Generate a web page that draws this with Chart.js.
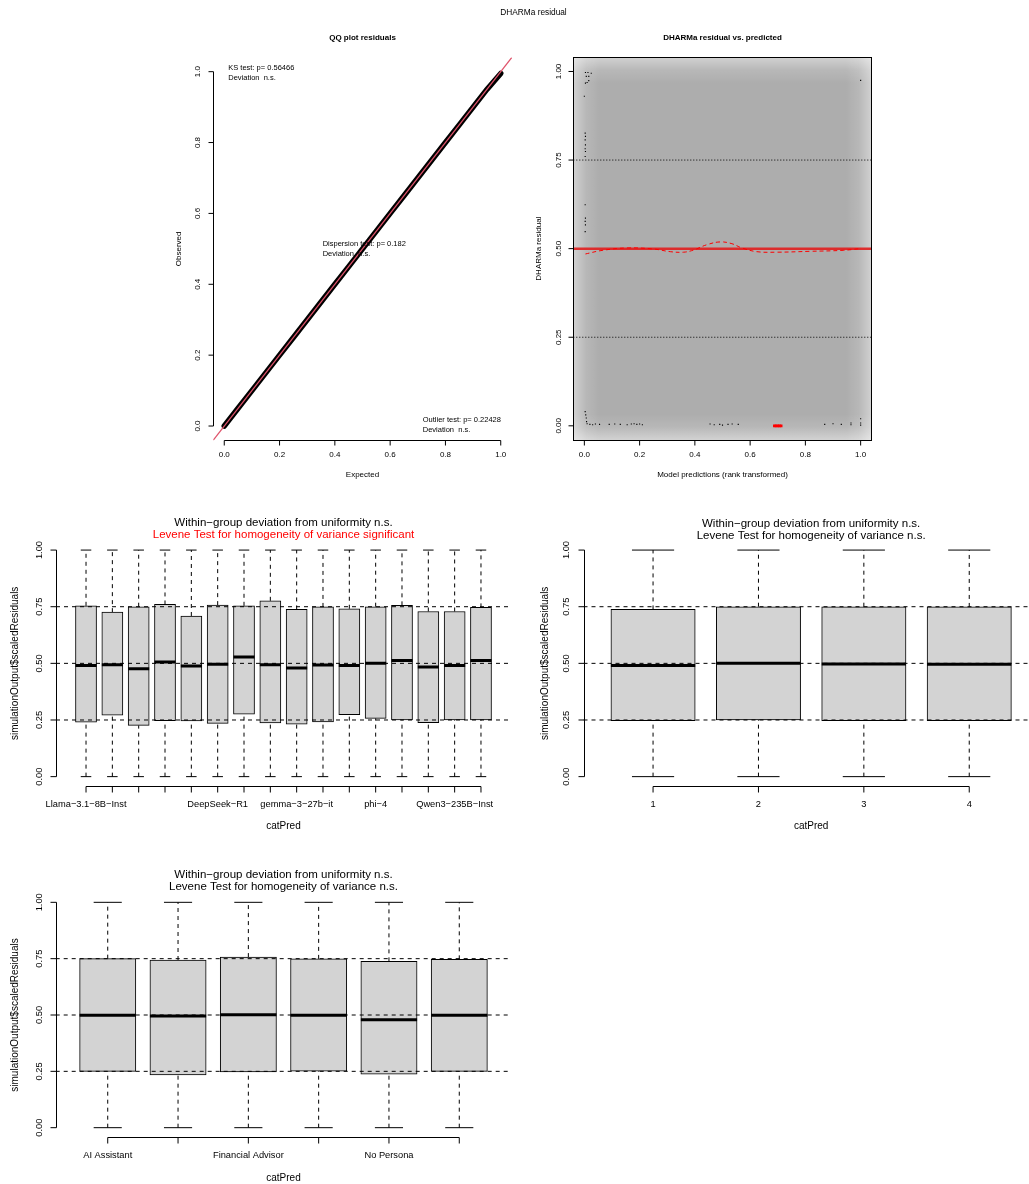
<!DOCTYPE html>
<html><head><meta charset="utf-8">
<script src="https://cdn.jsdelivr.net/npm/chart.js@4.4.1/dist/chart.umd.min.js"></script>
<style>
html,body{margin:0;padding:0;background:#fff;overflow:hidden}
#wrap{position:absolute;left:0;top:0;width:1060px;height:1184px;overflow:visible}
canvas{position:absolute;left:0;top:0;width:1060px;height:1184px}
</style></head><body>
<div id="wrap">
<canvas id="c1" width="1060" height="1184"></canvas>
<canvas id="c2" width="1060" height="1184"></canvas>
<canvas id="c3" width="1060" height="1184"></canvas>
<canvas id="c4" width="1060" height="1184"></canvas>
<canvas id="c5" width="1060" height="1184"></canvas>
</div>
<script>
// ---------------- DATA ----------------
const pageTitle = "DHARMa residual";

// QQ plot
const qqExpected = [0.00,0.05,0.10,0.15,0.20,0.25,0.30,0.35,0.40,0.45,0.50,0.55,0.60,0.65,0.70,0.75,0.80,0.85,0.90,0.95,1.00];
const qqObserved = [0.00,0.05,0.10,0.15,0.20,0.25,0.30,0.35,0.40,0.45,0.50,0.55,0.60,0.65,0.70,0.75,0.80,0.85,0.90,0.95,0.995];
const qqRefX = [-0.1, 1.1];
const qqRefY = [-0.1, 1.1];
const qqTicks = [0,0.2,0.4,0.6,0.8,1.0];
const qqTickLabels = ["0.0","0.2","0.4","0.6","0.8","1.0"];
const ksText = ["KS test: p= 0.56466","Deviation  n.s."];
const dispText = ["Dispersion test: p= 0.182","Deviation  n.s."];
const outText = ["Outlier test: p= 0.22428","Deviation  n.s."];

// Residual vs predicted
const resX = [0.004,0.013,0.025,0.007,0.016,0.004,0.010,0.016,0.000,
  0.003,0.004,0.003,0.004,0.003,0.004,0.003,
  0.003,0.004,0.003,0.004,0.003,
  0.003,0.005,0.007,0.008,
  0.010,0.020,0.030,0.040,0.055,0.090,0.110,0.130,0.155,0.170,0.180,0.190,0.200,0.210,
  0.455,0.470,0.490,0.500,0.520,0.535,0.557,
  0.870,0.900,0.930,0.965,0.965,1.000,1.000,1.000,1.000];
const resY = [0.997,0.997,0.995,0.986,0.986,0.967,0.969,0.974,0.930,
  0.826,0.817,0.807,0.793,0.782,0.774,0.760,
  0.624,0.586,0.577,0.567,0.548,
  0.040,0.031,0.022,0.012,
  0.006,0.004,0.003,0.005,0.004,0.004,0.005,0.004,0.003,0.005,0.006,0.004,0.005,0.003,
  0.005,0.003,0.004,0.002,0.004,0.005,0.004,
  0.004,0.006,0.004,0.003,0.008,0.975,0.020,0.008,0.002];
const outlierX = [0.688,0.694,0.700,0.706,0.712];
const outlierY = [0.000,0.000,0.000,0.000,0.000];
const quantX = [0.004,0.064,0.154,0.250,0.311,0.359,0.395,0.443,0.4915,0.534,0.570,0.624,0.696,0.817,0.937,0.997];
const quantY = [0.485,0.495,0.502,0.499,0.4915,0.490,0.496,0.511,0.519,0.514,0.502,0.4915,0.490,0.4925,0.4953,0.500];
const expectedQuantiles = [0.25,0.5,0.75];
const resYTicks = [0,0.25,0.5,0.75,1];
const resYTickLabels = ["0.00","0.25","0.50","0.75","1.00"];

// Boxplot 1 (models)
const modelLabels = ["Llama−3.1−8B−Inst","","","","","DeepSeek−R1","","","gemma−3−27b−it","","","phi−4","","","Qwen3−235B−Inst",""];
const modelQ1  = [0.240,0.271,0.226,0.247,0.246,0.235,0.276,0.237,0.232,0.241,0.274,0.257,0.250,0.238,0.250,0.250];
const modelMed = [0.490,0.494,0.476,0.506,0.488,0.496,0.528,0.494,0.479,0.493,0.491,0.500,0.513,0.484,0.490,0.513];
const modelQ3  = [0.754,0.726,0.750,0.760,0.709,0.757,0.754,0.776,0.738,0.749,0.741,0.750,0.756,0.729,0.729,0.747];
const modelMin = [0,0,0,0,0,0,0,0,0,0,0,0,0,0,0,0];
const modelMax = [1,1,1,1,1,1,1,1,1,1,1,1,1,1,1,1];

// Boxplot 2 (1..4)
const numLabels = ["1","2","3","4"];
const numQ1  = [0.247,0.250,0.247,0.247];
const numMed = [0.491,0.500,0.497,0.496];
const numQ3  = [0.738,0.750,0.750,0.749];
const numMin = [0,0,0,0];
const numMax = [1,1,1,1];

// Boxplot 3 (personas)
const personaLabels = ["AI Assistant","","Financial Advisor","","No Persona",""];
const personaQ1  = [0.250,0.234,0.247,0.251,0.237,0.250];
const personaMed = [0.4985,0.4956,0.5015,0.4985,0.479,0.4985];
const personaQ3  = [0.750,0.744,0.757,0.749,0.738,0.747];
const personaMin = [0,0,0,0,0,0];
const personaMax = [1,1,1,1,1,1];

const boxYTicks = [0,0.25,0.5,0.75,1];
const boxYTickLabels = ["0.00","0.25","0.50","0.75","1.00"];
const titleUnif = "Within−group deviation from uniformity n.s.";
const leveneSig = "Levene Test for homogeneity of variance significant";
const leveneNs = "Levene Test for homogeneity of variance n.s.";
const yBoxTitle = "simulationOutput$scaledResiduals";
const xBoxTitle = "catPred";

// ---------------- RENDER ----------------
const W = 1060, H = 1184;
const FF = '"Liberation Sans", Arial, Helvetica, sans-serif';
Chart.defaults.font.family = FF;
const pad = (L,T,R,B) => ({left:L, top:T, right:W-R, bottom:H-B});
const zip = (xs, ys) => xs.map((x,i)=>({x, y:ys[i]}));

function drawDensity(chart){
  const ctx = chart.ctx, a = chart.chartArea;
  ctx.save();
  ctx.fillStyle = '#adadad';
  ctx.fillRect(a.left, a.top, a.right-a.left, a.bottom-a.top);
  const e = 26;
  const mk = (x0,y0,x1,y1) => { const g = ctx.createLinearGradient(x0,y0,x1,y1); g.addColorStop(0,'rgba(255,255,255,0.45)'); g.addColorStop(0.5,'rgba(255,255,255,0.13)'); g.addColorStop(1,'rgba(255,255,255,0)'); return g; };
  ctx.fillStyle = mk(a.left,0,a.left+e,0); ctx.fillRect(a.left,a.top,e,a.bottom-a.top);
  ctx.fillStyle = mk(a.right,0,a.right-e,0); ctx.fillRect(a.right-e,a.top,e,a.bottom-a.top);
  ctx.fillStyle = mk(0,a.top,0,a.top+e); ctx.fillRect(a.left,a.top,a.right-a.left,e);
  ctx.fillStyle = mk(0,a.bottom,0,a.bottom-e); ctx.fillRect(a.left,a.bottom-e,a.right-a.left,e);
  ctx.restore();
}

const rDecor = {
  id: 'rDecor',
  beforeDatasetsDraw(chart, args, o) { if (o.density) drawDensity(chart); },
  afterDraw(chart, args, o) {
    const ctx = chart.ctx, ca = chart.chartArea, xs = chart.scales.x, ys = chart.scales.y;
    ctx.save();
    ctx.strokeStyle = '#000'; ctx.fillStyle = '#000'; ctx.lineWidth = 1; ctx.setLineDash([]);
    if (o.box) ctx.strokeRect(Math.round(ca.left)+0.5, Math.round(ca.top)+0.5, Math.round(ca.right-ca.left), Math.round(ca.bottom-ca.top));
    // x axis
    const yb = Math.round(ca.bottom)+0.5;
    const xp = o.xTicks.map(v=>xs.getPixelForValue(v));
    ctx.beginPath(); ctx.moveTo(xp[0], yb); ctx.lineTo(xp[xp.length-1], yb);
    xp.forEach(p=>{ctx.moveTo(p, yb); ctx.lineTo(p, yb+o.tickLen);});
    ctx.stroke();
    ctx.font = o.tickFont; ctx.textAlign='center'; ctx.textBaseline='middle';
    o.xLabels.forEach((t,i)=>{ if (t) ctx.fillText(t, xp[i], ca.bottom + o.xLabOff); });
    // y axis
    const xl = Math.round(ca.left)+0.5;
    const yp = o.yTicks.map(v=>ys.getPixelForValue(v));
    ctx.beginPath(); ctx.moveTo(xl, yp[0]); ctx.lineTo(xl, yp[yp.length-1]);
    yp.forEach(p=>{ctx.moveTo(xl, p); ctx.lineTo(xl-o.tickLen, p);});
    ctx.stroke();
    o.yLabels.forEach((t,i)=>{ ctx.save(); ctx.translate(ca.left - o.yLabOff, yp[i]); ctx.rotate(-Math.PI/2); ctx.fillText(t,0,0); ctx.restore(); });
    // axis titles
    const cx = (ca.left+ca.right)/2, cy = (ca.top+ca.bottom)/2;
    ctx.font = o.labFont;
    ctx.fillText(o.xTitle, cx, o.xTitleY);
    ctx.save(); ctx.translate(o.yTitleX, cy); ctx.rotate(-Math.PI/2); ctx.fillText(o.yTitle,0,0); ctx.restore();
    // main titles
    (o.titles||[]).forEach(t=>{ ctx.font = t.font; ctx.fillStyle = t.color||'#000'; ctx.textAlign='center'; ctx.fillText(t.text, t.x!==undefined?t.x:cx, t.y); });
    // in-plot texts (data coords)
    ctx.fillStyle = '#000'; ctx.textAlign = 'left';
    (o.texts||[]).forEach(t=>{ ctx.font = t.font; const px = xs.getPixelForValue(t.x), py = ys.getPixelForValue(t.y); t.lines.forEach((l,i)=>ctx.fillText(l, px, py + i*10)); });
    ctx.restore();
  }
};
Chart.register(rDecor);

function fixedScale(min, max){
  const fix = s => { s.min = min; s.max = max; };
  return {type:'linear', display:false, offset:false, bounds:'data', min, max, grace:0,
    ticks:{display:false}, afterDataLimits:fix, afterBuildTicks:fix};
}
const base = (padding, xmin, xmax, ymin, ymax, decor) => ({
  responsive:false, animation:false, events:[], devicePixelRatio:1,
  layout:{padding, autoPadding:false},
  plugins:{legend:{display:false}, tooltip:{enabled:false}, rDecor:decor},
  scales:{ x:fixedScale(xmin,xmax), y:fixedScale(ymin,ymax) }
});

const topTick = '8px '+FF, topText = '7.5px '+FF, topTitle = 'bold 8px '+FF;

// Panel 1: QQ
new Chart(document.getElementById('c1'), {
  type:'line',
  data:{datasets:[
    {data: zip(qqRefX, qqRefY), borderColor:'#DF536B', borderWidth:1.3, pointRadius:0, order:0},
    {data: zip(qqExpected, qqObserved), borderColor:'#000', borderWidth:5.5, borderCapStyle:'round', pointRadius:0, order:1}
  ]},
  options: base(pad(213.2,57.5,511.8,440.2), -0.04, 1.04, -0.04, 1.04, {
    box:false, xTicks:qqTicks, xLabels:qqTickLabels, yTicks:qqTicks, yLabels:qqTickLabels,
    tickLen:5, tickFont:topTick, xLabOff:15, yLabOff:15, labFont:'8px '+FF,
    xTitle:'Expected', xTitleY:475, yTitle:'Observed', yTitleX:178.3,
    titles:[{text:'QQ plot residuals', font:topTitle, y:38},{text:pageTitle, font:'8.3px '+FF, x:533.5, y:12.5}],
    texts:[{x:0.0145,y:1.0096,lines:ksText,font:topText},{x:0.356,y:0.5137,lines:dispText,font:topText},{x:0.718,y:0.0169,lines:outText,font:topText}]
  })
});

// Panel 2: residual vs predicted
const hl = (levels, x0, x1) => levels.flatMap(v=>[{x:x0,y:v},{x:x1,y:v},{x:x1,y:null}]);
new Chart(document.getElementById('c2'), {
  type:'line',
  data:{datasets:[
    {data: zip(outlierX, outlierY), showLine:false, pointStyle:'rect', pointRadius:2, pointBackgroundColor:'#ff0000', pointBorderWidth:0, order:0},
    {data: zip(quantX, quantY), borderColor:'#ff0000', borderWidth:1, borderDash:[4,3], tension:0.4, pointRadius:0, order:1},
    {data: hl([expectedQuantiles[1]], -0.04, 1.04), borderColor:'rgba(225,30,30,0.9)', borderWidth:2.5, pointRadius:0, order:2},
    {data: hl([expectedQuantiles[0], expectedQuantiles[2]], -0.04, 1.04), borderColor:'#000', borderWidth:1, borderDash:[1,2], pointRadius:0, order:3},
    {data: zip(resX, resY), showLine:false, pointStyle:'rect', pointRadius:0.8, pointBackgroundColor:'#000', pointBorderWidth:0, order:4}
  ]},
  options: base(pad(573.3,57.3,871.7,440), -0.04, 1.04, -0.04, 1.04, {
    box:true, density:true, xTicks:qqTicks, xLabels:qqTickLabels, yTicks:resYTicks, yLabels:resYTickLabels,
    tickLen:5, tickFont:topTick, xLabOff:15, yLabOff:15, labFont:'8px '+FF,
    xTitle:'Model predictions (rank transformed)', xTitleY:475, yTitle:'DHARMa residual', yTitleX:538.3,
    titles:[{text:'DHARMa residual vs. predicted', font:topTitle, y:38}]
  })
});

// Boxplots
function boxChart(id, L,T,R,B, labels, q1, med, q3, lo, hi, titles, xTitleY, yTitleX, xLabOff) {
  const n = labels.length;
  const xmin = 0.5 - 0.04*n, xmax = n + 0.5 + 0.04*n;
  const unit = (R-L)/(xmax-xmin);
  const idx = labels.map((_,i)=>i+1);
  const whisk = idx.flatMap((x,i)=>[{x,y:lo[i]},{x,y:q1[i]},{x,y:null},{x,y:q3[i]},{x,y:hi[i]},{x,y:null}]);
  const caps = idx.flatMap((x,i)=>[{x,y:lo[i]},{x,y:hi[i]}]);
  return new Chart(document.getElementById(id), {
    type:'bar',
    data:{datasets:[
      {type:'line', data: hl(expectedQuantiles, xmin, xmax), borderColor:'#000', borderWidth:1, borderDash:[4,4], pointRadius:0, order:0},
      {type:'line', data: zip(idx, med), showLine:false, pointStyle:'line', pointRadius:0.4*unit, pointBorderWidth:3, pointBorderColor:'#000', order:1},
      {type:'bar', data: idx.map((x,i)=>({x, y:[q1[i], q3[i]]})), backgroundColor:'#d3d3d3', borderColor:'#000', borderWidth:1, borderSkipped:false, barThickness:0.8*unit, order:2},
      {type:'line', data: caps, showLine:false, pointStyle:'line', pointRadius:0.2*unit, pointBorderWidth:1, pointBorderColor:'#000', order:3},
      {type:'line', data: whisk, borderColor:'#000', borderWidth:1, borderDash:[4,4], pointRadius:0, order:4}
    ]},
    options: base(pad(L,T,R,B), xmin, xmax, -0.04, 1.04, {
      box:false, xTicks:idx, xLabels:labels, yTicks:boxYTicks, yLabels:boxYTickLabels,
      tickLen:6, tickFont:'9.3px '+FF, xLabOff:xLabOff, yLabOff:16.7, labFont:'10px '+FF,
      xTitle:xBoxTitle, xTitleY:xTitleY, yTitle:yBoxTitle, yTitleX:yTitleX, titles
    })
  });
}
const tf = '11.5px '+FF;
boxChart('c3', 56,541,511,785.7, modelLabels, modelQ1, modelMed, modelQ3, modelMin, modelMax,
  [{text:titleUnif, font:tf, y:523.3},{text:leveneSig, font:tf, y:535.3, color:'#ff0000'}], 826.7, 15, 18.3);
boxChart('c4', 583.5,541,1038.8,785.7, numLabels, numQ1, numMed, numQ3, numMin, numMax,
  [{text:titleUnif, font:tf, y:524},{text:leveneNs, font:tf, y:535.5}], 826.7, 545, 18.3);
boxChart('c5', 55.7,893.3,511.3,1136.7, personaLabels, personaQ1, personaMed, personaQ3, personaMin, personaMax,
  [{text:titleUnif, font:tf, y:875},{text:leveneNs, font:tf, y:887}], 1178.3, 15, 19);
</script>
</body></html>
